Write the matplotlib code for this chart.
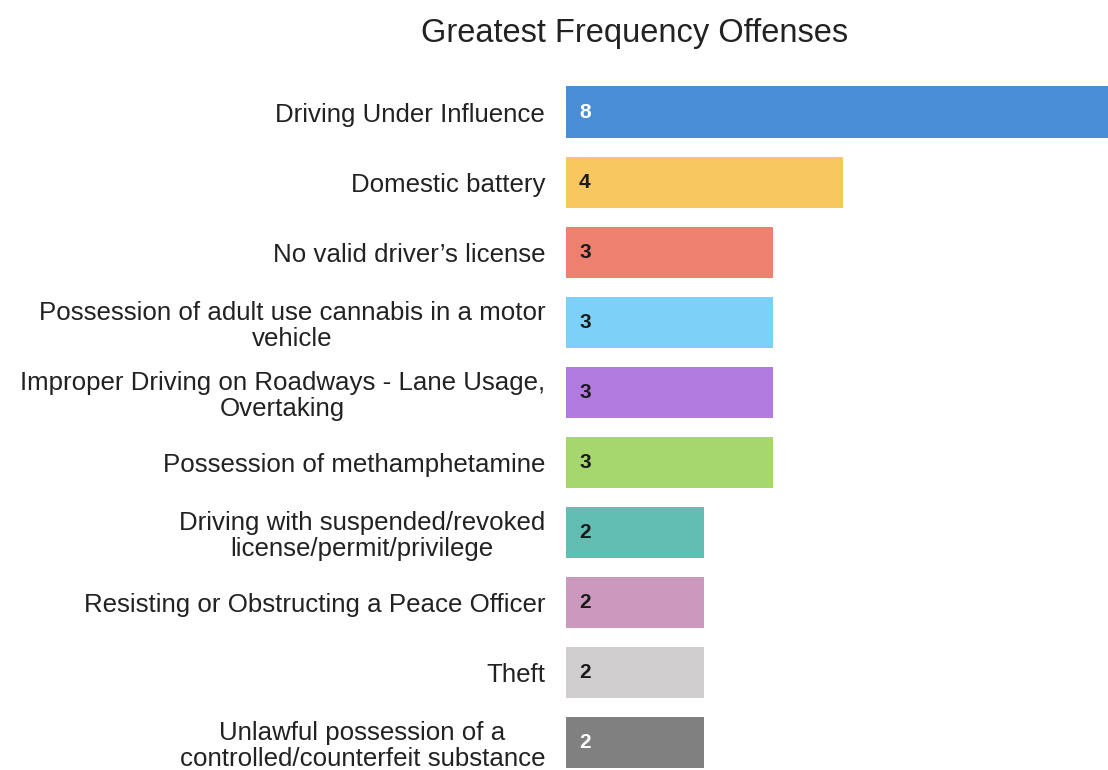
import matplotlib
matplotlib.use("Agg")
import matplotlib.pyplot as plt

categories = [
    "Driving Under Influence",
    "Domestic battery",
    "No valid driver\u2019s license",
    "Possession of adult use cannabis in a motor\nvehicle",
    "Improper Driving on Roadways - Lane Usage,\nOvertaking",
    "Possession of methamphetamine",
    "Driving with suspended/revoked\nlicense/permit/privilege",
    "Resisting or Obstructing a Peace Officer",
    "Theft",
    "Unlawful possession of a\ncontrolled/counterfeit substance",
]
values = [8, 4, 3, 3, 3, 3, 2, 2, 2, 2]
colors = ["#4A8FD6", "#F6C85F", "#EE8070", "#7DD0F8", "#B07ADE",
          "#A6D66E", "#62BDB3", "#CC99BE", "#D0CECE", "#808080"]
label_colors = ["white", "#1a1a1a", "#1a1a1a", "#1a1a1a", "#1a1a1a",
                "#1a1a1a", "#1a1a1a", "#1a1a1a", "#1a1a1a", "white"]

plt.rcParams['font.family'] = ['Liberation Sans', 'DejaVu Sans']

fig = plt.figure(figsize=(11.08, 7.7), dpi=100)
ax = fig.add_axes([0.5108, 0.0, 0.4892, 0.9])
y = list(range(len(categories)))
ax.barh(y, values, height=0.73, color=colors)
ax.set_xlim(0, 7.84)
ax.set_ylim(9.387, -0.5)
ax.set_yticks(y)
ax.set_yticklabels(categories, fontsize=18.6, color="#222222",
                   multialignment="center", linespacing=1.1)
ax.tick_params(axis='y', length=0, pad=15)
ax.set_xticks([])
for s in ax.spines.values():
    s.set_visible(False)

for i, (v, c) in enumerate(zip(values, label_colors)):
    ax.text(0.19, i, str(v), color=c, fontsize=15, fontweight='bold',
            va='center', ha='left')

fig.text(0.573, 0.957, "Greatest Frequency Offenses", fontsize=23.5,
         color="#222222", ha='center', va='center')

fig.savefig("out.png", dpi=100)
